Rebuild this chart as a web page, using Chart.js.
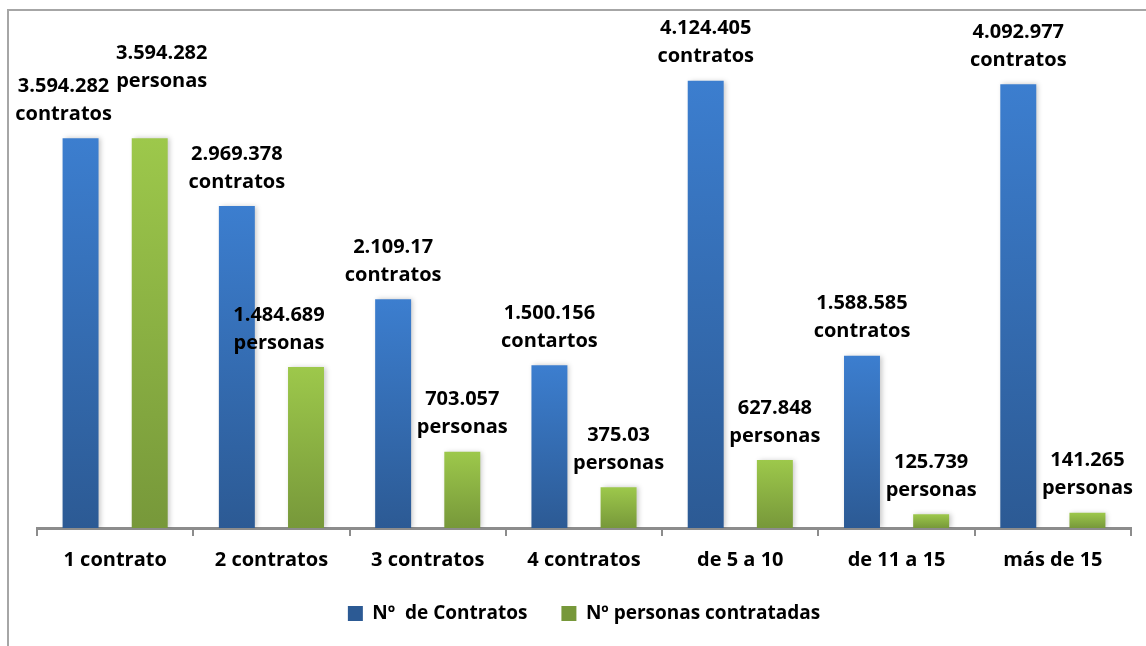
<!DOCTYPE html>
<html>
<head>
<meta charset="utf-8">
<script src="https://cdn.jsdelivr.net/npm/chart.js@4/dist/chart.umd.min.js"></script>
<style>
  html, body { margin: 0; padding: 0; background: #fff; }
  .wrap { position: relative; width: 1146px; height: 646px; overflow: hidden; }
  .frame { position: absolute; left: 7px; top: 9px; width: 1200px; height: 700px;
           border-left: 2px solid #a6a6a6; border-top: 2px solid #a6a6a6; }
  canvas { position: absolute; left: 0; top: 0; }
</style>
</head>
<body>
<div class="wrap">
  <div class="frame"></div>
  <canvas id="chart" width="1146" height="646"></canvas>
</div>
<script>
const categories = ["1 contrato", "2 contratos", "3 contratos", "4 contratos", "de 5 a 10", "de 11 a 15", "más de 15"];
const seriesNames = ["Nº  de Contratos", "Nº personas contratadas"];

const contratos = [3594282, 2969378, 2109170, 1500156, 4124405, 1588585, 4092977];
const personas = [3594282, 1484689, 703057, 375030, 627848, 125739, 141265];

// label texts as printed on the chart (typos kept)
const contratosText = ["3.594.282", "2.969.378", "2.109.17", "1.500.156", "4.124.405", "1.588.585", "4.092.977"];
const contratosUnit = ["contratos", "contratos", "contratos", "contartos", "contratos", "contratos", "contratos"];
const personasText = ["3.594.282", "1.484.689", "703.057", "375.03", "627.848", "125.739", "141.265"];
const personasUnit = ["personas", "personas", "personas", "personas", "personas", "personas", "personas"];

const FONT = "'Open Sans', Lato, sans-serif";

// a few labels were dragged by hand in the original
const labelNudge = {
  "0-0": { dx: -17, dy: 0 },
  "1-0": { dx: 12, dy: -33 },
  "1-1": { dx: -27, dy: 0 },
};

function barGradient(top, bottom) {
  return (context) => {
    const chart = context.chart;
    const y = chart.scales.y;
    if (!chart.chartArea || !y || context.raw === undefined) return bottom;
    const yTop = y.getPixelForValue(context.raw);
    const yBase = y.getPixelForValue(0);
    const g = chart.ctx.createLinearGradient(0, yTop, 0, yBase);
    g.addColorStop(0, top);
    g.addColorStop(1, bottom);
    return g;
  };
}

const valueLabels = {
  id: "valueLabels",
  afterDatasetsDraw(chart) {
    const ctx = chart.ctx;
    const texts = [[contratosText, contratosUnit], [personasText, personasUnit]];
    ctx.save();
    ctx.font = "bold 20px " + FONT;
    ctx.fillStyle = "#000";
    ctx.textAlign = "center";
    ctx.textBaseline = "middle";
    chart.data.datasets.forEach((ds, di) => {
      chart.getDatasetMeta(di).data.forEach((bar, i) => {
        const n = labelNudge[di + "-" + i] || { dx: 0, dy: 0 };
        const x = bar.x + n.dx;
        const y = bar.y - 24 + n.dy;
        ctx.fillText(texts[di][0][i], x, y - 28);
        ctx.fillText(texts[di][1][i], x, y);
      });
    });
    ctx.restore();
  },
};

const barShadow = {
  id: "barShadow",
  beforeDatasetsDraw(chart) {
    const ctx = chart.ctx;
    ctx.save();
    ctx.shadowColor = "rgba(0,0,0,0.22)";
    ctx.shadowBlur = 5;
    ctx.shadowOffsetX = 2;
    ctx.shadowOffsetY = 0;
  },
  afterDatasetsDraw(chart) {
    chart.ctx.restore();
  },
};

new Chart(document.getElementById("chart"), {
  type: "bar",
  data: {
    labels: categories,
    datasets: [
      {
        label: seriesNames[0],
        data: contratos,
        backgroundColor: barGradient("#3c7ecf", "#2c5a94"),
        categoryPercentage: 0.885,
        barPercentage: 0.52,
      },
      {
        label: seriesNames[1],
        data: personas,
        backgroundColor: barGradient("#9dc84b", "#77983a"),
        categoryPercentage: 0.885,
        barPercentage: 0.52,
      },
    ],
  },
  options: {
    responsive: false,
    animation: false,
    layout: { padding: { left: 37, right: 15, top: 40, bottom: 13 } },
    scales: {
      y: { display: false, min: 0, max: 4500000 },
      x: {
        grid: { offset: true, drawOnChartArea: false, drawTicks: true, tickLength: 8, color: "#8c8c8c", lineWidth: 2 },
        border: { color: "#8c8c8c", width: 3 },
        ticks: { color: "#000", padding: 12, font: { family: FONT, size: 20, weight: "bold" } },
        afterFit: (scale) => { scale.height = 42; },
      },
    },
    plugins: {
      legend: {
        position: "bottom",
        labels: {
          color: "#000",
          boxWidth: 15,
          boxHeight: 15,
          padding: 34,
          font: { family: FONT, size: 19, weight: "bold" },
        },
      },
      tooltip: { enabled: false },
    },
  },
  plugins: [barShadow, valueLabels],
});
</script>
</body>
</html>
